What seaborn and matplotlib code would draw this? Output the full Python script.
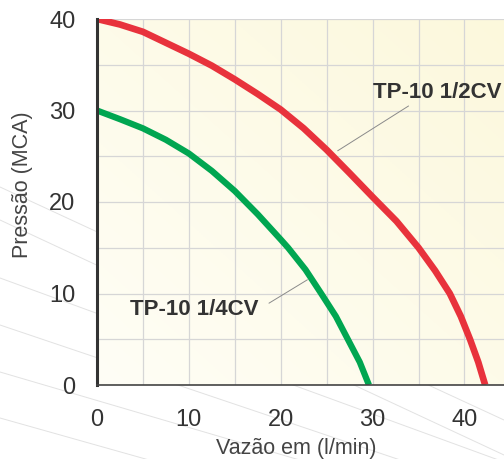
import numpy as np
import pandas as pd
import seaborn as sns
import matplotlib.pyplot as plt
from matplotlib.lines import Line2D
from matplotlib.ticker import MultipleLocator

# Curves: flow (l/min) vs pressure (MCA)
red_x = [0, 2.5, 5, 7.5, 10, 12.5, 15, 17.5, 20, 22.5, 25, 27.5, 30, 32.6, 35,
         36.8, 38.4, 39.6, 40.6, 41.5, 42.25]
red_y = [40, 39.4, 38.6, 37.4, 36.2, 34.9, 33.4, 31.8, 30.1, 28.05, 25.7, 23.15, 20.55, 17.9, 15,
         12.5, 10, 7.5, 5, 2.5, 0]
green_x = [0, 2.5, 5, 7.5, 10, 12.5, 15, 17.5, 20, 20.8, 22.7, 24.4, 26.0, 27.3, 28.6, 29.6]
green_y = [30, 29.05, 28.05, 26.8, 25.3, 23.4, 21.2, 18.65, 15.9, 15, 12.6, 10, 7.5, 5, 2.5, 0]

red_label = "TP-10 1/2CV"
green_label = "TP-10 1/4CV"
x_ticks = [0, 10, 20, 30, 40]
y_ticks = [0, 10, 20, 30, 40]

red_df = pd.DataFrame({"vazao": red_x, "pressao": red_y})
green_df = pd.DataFrame({"vazao": green_x, "pressao": green_y})

sns.set_theme(style="white")
plt.rcParams["font.family"] = ["Liberation Sans", "DejaVu Sans"]

fig = plt.figure(figsize=(5.04, 4.59), dpi=100)

# faint decorative lines in the background (figure pixels)
for y0, y1 in [(187, 420), (220, 455), (278, 462), (325, 495), (372, 520), (418, 560)]:
    fig.add_artist(Line2D([0, 1], [1 - y0 / 459, 1 - y1 / 459], transform=fig.transFigure,
                          color="#e2e2e2", lw=0.7, zorder=0))

ax = fig.add_axes([97 / 504, 1 - 385 / 459, 407 / 504, 366 / 459])
ax.set_xlim(0, 44.3)
ax.set_ylim(0, 40)

# cream gradient background
grad = np.linspace(0, 1, 200)
gx, gy = np.meshgrid(grad, grad)
g = (gx + gy) / 2
c0 = np.array([255, 254, 246]) / 255
c1 = np.array([252, 248, 220]) / 255
img = c0 + (c1 - c0) * g[..., None]
ax.imshow(img, extent=[0, 44.3, 0, 40], origin="lower", aspect="auto", zorder=0)

ax.xaxis.set_major_locator(MultipleLocator(10))
ax.xaxis.set_minor_locator(MultipleLocator(5))
ax.yaxis.set_major_locator(MultipleLocator(10))
ax.yaxis.set_minor_locator(MultipleLocator(5))
ax.grid(True, which="both", color="#d6d6d6", lw=0.9, zorder=1)
ax.set_axisbelow(True)

sns.lineplot(data=red_df, x="vazao", y="pressao", color="#e8323c", lw=4.8,
             ax=ax, sort=False, zorder=3)
sns.lineplot(data=green_df, x="vazao", y="pressao", color="#00a651", lw=4.5,
             ax=ax, sort=False, zorder=3)
for l in ax.get_lines():
    l.set_solid_capstyle("butt")
    l.set_solid_joinstyle("round")

ax.set_xticks(x_ticks)
ax.set_yticks(y_ticks)
ax.tick_params(which="both", direction="out", length=8.6, width=0.9, color="#d6d6d6",
               labelsize=17, labelcolor="#333333")
ax.tick_params(axis="x", pad=9)
ax.tick_params(axis="y", pad=7)
ax.tick_params(which="minor", labelleft=False, labelbottom=False)
ax.xaxis.get_major_ticks()[0].tick1line.set_color("#333333")
ax.xaxis.get_major_ticks()[0].tick1line.set_markeredgewidth(2.2)
ax.yaxis.get_major_ticks()[0].tick1line.set_color("#444444")
ax.yaxis.get_major_ticks()[0].tick1line.set_markeredgewidth(1.2)

for s in ["top", "right"]:
    ax.spines[s].set_visible(False)
ax.spines["left"].set_color("#333333")
ax.spines["left"].set_linewidth(2.2)
ax.spines["bottom"].set_color("#444444")
ax.spines["bottom"].set_linewidth(1.2)
ax.spines["left"].set_zorder(4)
ax.spines["bottom"].set_zorder(4)

ax.set_xlabel("Vazão em (l/min)", fontsize=15.5, color="#444444")
ax.set_ylabel("Pressão (MCA)", fontsize=15.5, color="#444444")
ax.xaxis.set_label_coords(0.489, -0.144)
ax.yaxis.set_label_coords(-0.157, 0.546)

ax.annotate(red_label, xy=(26.2, 25.6), xytext=(30.0, 32.0), ha="left", va="center",
            fontsize=16, fontweight="bold", color="#333333",
            arrowprops=dict(arrowstyle="-", color="#8a8a8a", lw=0.7,
                            shrinkA=0, shrinkB=0, relpos=(0.32, 0)))
ax.annotate(green_label, xy=(22.9, 11.5), xytext=(3.6, 8.25), ha="left", va="center",
            fontsize=16, fontweight="bold", color="#333333",
            arrowprops=dict(arrowstyle="-", color="#8a8a8a", lw=0.7,
                            shrinkA=6, shrinkB=0, relpos=(1, 0.5)))

fig.savefig("out.png", dpi=100)
